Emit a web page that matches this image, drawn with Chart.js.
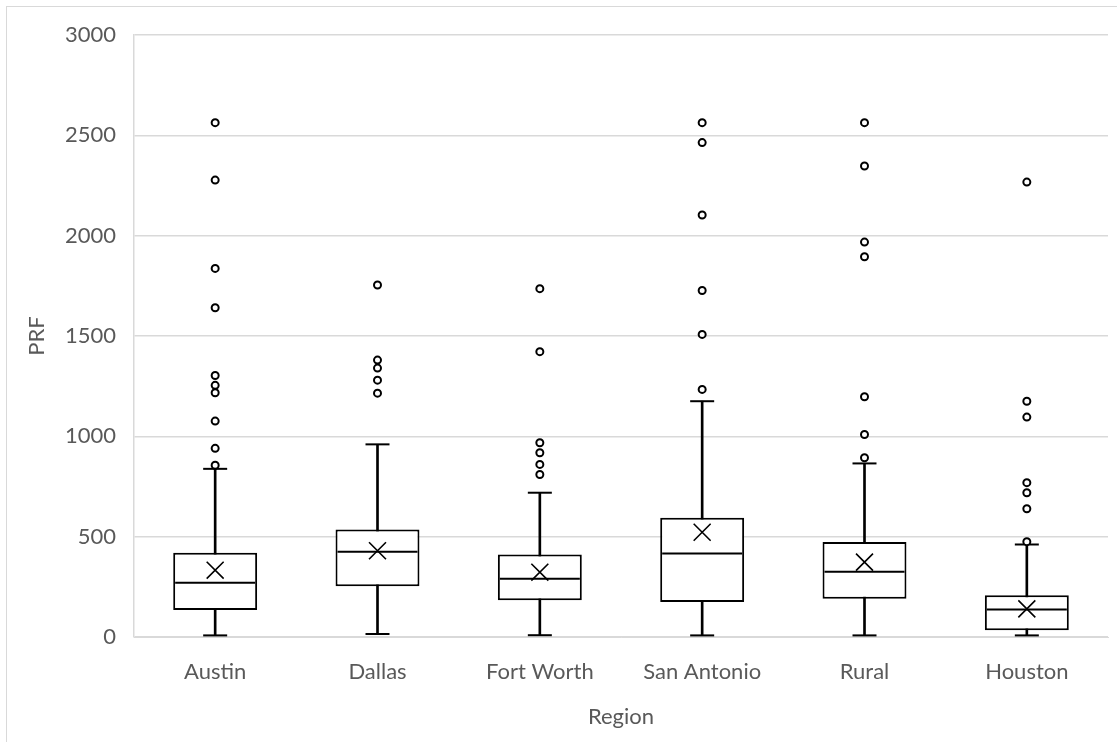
<!DOCTYPE html>
<html>
<head>
<meta charset="utf-8">
<script src="https://cdn.jsdelivr.net/npm/chart.js@4"></script>
<style>
  html, body { margin: 0; padding: 0; background: #ffffff; overflow: hidden; }
  #frame { position: absolute; left: 6px; top: 6px; width: 1200px; height: 800px; border: 1px solid #d9d9d9; box-sizing: border-box; }
  #wrap { position: absolute; left: 0; top: 0; width: 1117px; height: 742px; }
</style>
</head>
<body>
<div id="frame"></div>
<div id="wrap"><canvas id="c" width="1117" height="742"></canvas></div>
<script>
const categories = ['Austin', 'Dallas', 'Fort Worth', 'San Antonio', 'Rural', 'Houston'];
const minVals    = [8, 15, 9, 8, 8, 8];
const q1Vals     = [134, 253, 183, 174, 190, 34];
const medianVals = [270, 425, 290, 416, 325, 137];
const q3Vals     = [420, 536, 411, 594, 473, 208];
const maxVals    = [838, 960, 719, 1175, 865, 461];
const meanVals   = [333, 430, 323, 522, 373, 140];
const outAustin     = [856, 940, 1076, 1217, 1254, 1303, 1641, 1837, 2277, 2563];
const outDallas     = [1215, 1280, 1340, 1380, 1754];
const outFortWorth  = [810, 860, 918, 968, 1422, 1736];
const outSanAntonio = [1234, 1508, 1727, 2103, 2464, 2563];
const outRural      = [893, 1009, 1197, 1895, 1968, 2347, 2563];
const outHouston    = [475, 639, 719, 769, 1096, 1175, 2267];
const yTicks = [0, 500, 1000, 1500, 2000, 2500, 3000];

const outlierLists = [outAustin, outDallas, outFortWorth, outSanAntonio, outRural, outHouston];
const outlierPoints = [];
outlierLists.forEach((list, i) => list.forEach(v => outlierPoints.push({ x: categories[i], y: v })));

const FONT = 'Lato, "Open Sans", sans-serif';
const GRAY = '#595959';
const GRID = '#d9d9d9';

new Chart(document.getElementById('c'), {
  type: 'bar',
  data: {
    labels: categories,
    datasets: [
      {
        type: 'bar', label: 'whisker',
        data: categories.map((c, i) => [minVals[i], maxVals[i]]),
        backgroundColor: '#000000', borderWidth: 0,
        grouped: false, maxBarThickness: 2, categoryPercentage: 1, barPercentage: 1,
        order: 6
      },
      {
        type: 'bar', label: 'box',
        data: categories.map((c, i) => [q1Vals[i], q3Vals[i]]),
        backgroundColor: '#ffffff', borderColor: '#000000', borderWidth: 2, borderSkipped: false,
        grouped: false, categoryPercentage: 1, barPercentage: 0.517,
        order: 5
      },
      {
        type: 'line', label: 'caps-max', data: maxVals, showLine: false,
        pointStyle: 'line', pointRadius: 12, pointBorderWidth: 2, pointBorderColor: '#000', pointBackgroundColor: '#000',
        order: 4
      },
      {
        type: 'line', label: 'caps-min', data: minVals, showLine: false,
        pointStyle: 'line', pointRadius: 12, pointBorderWidth: 2, pointBorderColor: '#000', pointBackgroundColor: '#000',
        order: 4
      },
      {
        type: 'line', label: 'median', data: medianVals, showLine: false,
        pointStyle: 'line', pointRadius: 40, pointBorderWidth: 2, pointBorderColor: '#000', pointBackgroundColor: '#000',
        order: 3
      },
      {
        type: 'line', label: 'mean', data: meanVals, showLine: false,
        pointStyle: 'crossRot', pointRadius: 12, pointBorderWidth: 1.6, pointBorderColor: '#000', pointBackgroundColor: '#000',
        order: 2
      },
      {
        type: 'line', label: 'outliers', data: outlierPoints, showLine: false,
        pointStyle: 'circle', pointRadius: 3.5, pointBorderWidth: 2, pointBorderColor: '#000', pointBackgroundColor: '#fff',
        order: 1
      }
    ]
  },
  options: {
    responsive: false,
    devicePixelRatio: 1,
    animation: false,
    events: [],
    layout: { autoPadding: false, padding: { left: 0, right: 9, top: 35, bottom: 0 } },
    plugins: { legend: { display: false }, tooltip: { enabled: false }, title: { display: false } },
    scales: {
      x: {
        grid: { display: false, drawTicks: false },
        border: { display: true, color: GRID, width: 1 },
        ticks: { color: GRAY, font: { family: FONT, size: 22 }, padding: 22, maxRotation: 0 },
        title: { display: true, text: 'Region', color: GRAY, font: { family: FONT, size: 22 }, padding: { top: 0, bottom: 12 } },
        afterFit: (s) => { s.height = 105; }
      },
      y: {
        min: 0, max: 3000,
        afterBuildTicks: (s) => { s.ticks = yTicks.map(v => ({ value: v })); },
        grid: { color: GRID, lineWidth: 1.5, drawTicks: false },
        border: { display: true, color: GRID, width: 1.5 },
        ticks: { color: GRAY, font: { family: FONT, size: 22 }, padding: 18, callback: (v) => String(v) },
        title: { display: true, text: 'PRF', color: GRAY, font: { family: FONT, size: 22 }, padding: { top: 24, bottom: 0 } },
        afterFit: (s) => { s.width = 134; }
      }
    }
  }
});
</script>
</body>
</html>
